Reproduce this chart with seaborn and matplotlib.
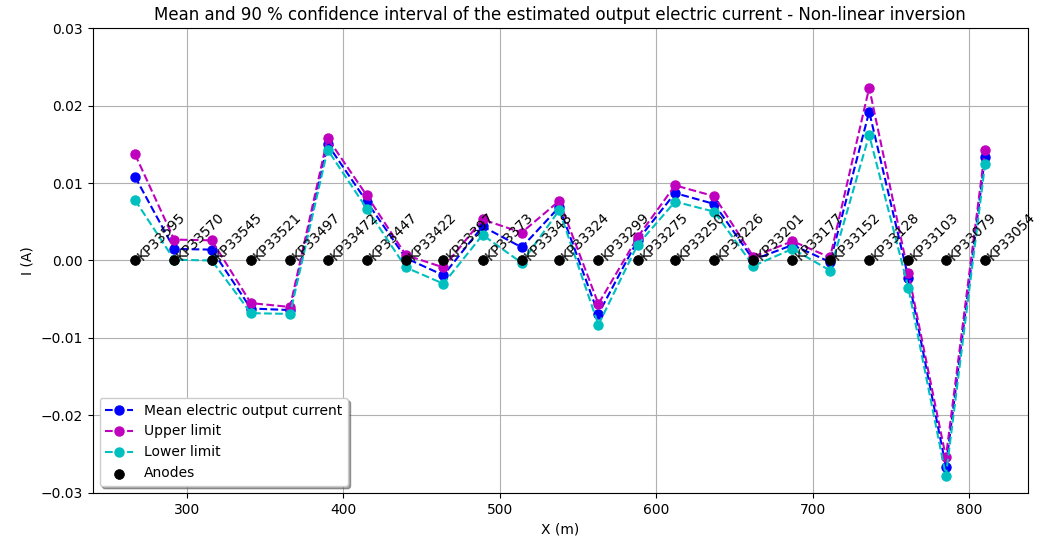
import numpy as np
import pandas as pd
import matplotlib
matplotlib.use("Agg")
import matplotlib.pyplot as plt
import seaborn as sns

# Anode positions along the pipeline (m) and their KP names
x_pos = [267, 292, 316, 341, 366, 390, 415, 440, 464, 489, 514, 538,
         563, 588, 612, 637, 662, 687, 711, 736, 761, 785, 810]
kp_names = ["KP33595", "KP33570", "KP33545", "KP33521", "KP33497", "KP33472",
            "KP33447", "KP33422", "KP33397", "KP33373", "KP33348", "KP33324",
            "KP33299", "KP33275", "KP33250", "KP33226", "KP33201", "KP33177",
            "KP33152", "KP33128", "KP33103", "KP33079", "KP33054"]

# Estimated output current (A)
mean_i = [0.0108, 0.0015, 0.0014, -0.0062, -0.0064, 0.0150, 0.0076, 0.0003,
          -0.0019, 0.0044, 0.0017, 0.0069, -0.0069, 0.0026, 0.0087, 0.0073,
          0.0001, 0.0020, -0.0002, 0.0192, -0.0022, -0.0266, 0.0134]
upper_i = [0.0137, 0.0027, 0.0026, -0.0055, -0.0060, 0.0158, 0.0084, 0.0007,
           -0.0009, 0.0053, 0.0036, 0.0077, -0.0056, 0.0030, 0.0097, 0.0083,
           0.0005, 0.0025, 0.0004, 0.0223, -0.0016, -0.0254, 0.0143]
lower_i = [0.0078, 0.0001, 0.0000, -0.0068, -0.0069, 0.0143, 0.0067, -0.0009,
           -0.0030, 0.0033, -0.0003, 0.0065, -0.0083, 0.0020, 0.0076, 0.0063,
           -0.0007, 0.0015, -0.0013, 0.0162, -0.0035, -0.0278, 0.0124]

df = pd.DataFrame({"X": x_pos, "KP": kp_names, "mean": mean_i,
                   "upper": upper_i, "lower": lower_i})
df["anode"] = 0.0

fig = plt.figure(figsize=(10.4, 5.41), dpi=100)
ax = fig.add_axes([0.089, 0.089, 0.899, 0.859])

series = [("mean", "b", "Mean electric output current"),
          ("upper", "m", "Upper limit"),
          ("lower", "c", "Lower limit")]
for col, clr, lbl in series:
    sns.lineplot(data=df, x="X", y=col, ax=ax, color=clr, label=lbl,
                 linestyle="--", marker="o", markersize=6.5,
                 markeredgecolor=clr, markeredgewidth=1, sort=False)

sns.scatterplot(data=df, x="X", y="anode", ax=ax, color="k", s=50,
                edgecolor="k", linewidth=0.5, label="Anodes", zorder=3)

for _, row in df.iterrows():
    ax.text(row["X"], row["anode"], row["KP"], rotation=45, fontsize=10)

ax.set_ylim(-0.03, 0.03)
ax.set_yticks(np.arange(-0.03, 0.031, 0.01))
ax.grid(True, color="#b0b0b0", linewidth=0.8)
ax.set_axisbelow(True)
ax.set_xlabel("X (m)")
ax.set_ylabel("I (A)")
ax.set_title("Mean and 90 % confidence interval of the estimated output electric current - Non-linear inversion")
ax.legend(loc="lower left", shadow=True)

fig.savefig("out.png", dpi=100)
